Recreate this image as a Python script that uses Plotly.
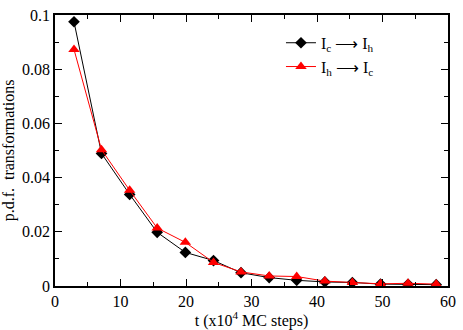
import plotly.graph_objects as go

# time (x10^4 MC steps)
t = [2.9, 7.1, 11.4, 15.6, 19.9, 24.2, 28.4, 32.7, 36.9, 41.2, 45.4, 49.7, 53.9, 58.2]

# p.d.f. of transformations
pdf_c_to_h = [0.0975, 0.0489, 0.0338, 0.0198, 0.0124, 0.0094, 0.0049, 0.0031,
              0.0021, 0.0015, 0.0013, 0.0007, 0.0006, 0.0005]
pdf_h_to_c = [0.0873, 0.0503, 0.0353, 0.0214, 0.0161, 0.0087, 0.0052, 0.0037,
              0.0035, 0.0018, 0.0013, 0.0008, 0.0010, 0.0007]

fig = go.Figure()
fig.add_trace(go.Scatter(
    x=t, y=pdf_c_to_h, mode="lines+markers",
    name="I<sub>c</sub> \u27f6 I<sub>h</sub>",
    line=dict(color="black", width=1),
    marker=dict(symbol="diamond", size=9, color="black"),
))
fig.add_trace(go.Scatter(
    x=t, y=pdf_h_to_c, mode="lines+markers",
    name="I<sub>h</sub> \u27f6 I<sub>c</sub>",
    line=dict(color="red", width=1),
    marker=dict(symbol="triangle-up", size=10, color="red"),
))

axis_style = dict(
    showgrid=False, zeroline=False, showline=True, linecolor="black", linewidth=1.5,
    mirror="allticks", ticks="inside", ticklen=7, tickcolor="black",
    tickfont=dict(family="Liberation Serif", size=16, color="black"),
)

fig.update_xaxes(
    range=[0, 60], dtick=10,
    minor=dict(dtick=5, ticks="inside", ticklen=4, tickcolor="black"),
    title=dict(text="t (x10<sup>4</sup> MC steps)", standoff=2,
               font=dict(family="Liberation Serif", size=16, color="black")),
    **axis_style,
)
fig.update_yaxes(
    range=[0, 0.1], dtick=0.02,
    minor=dict(dtick=0.01, ticks="inside", ticklen=4, tickcolor="black"),
    title=dict(text="p.d.f.  transformations", standoff=4,
               font=dict(family="Liberation Serif", size=16, color="black")),
    **axis_style,
)

fig.update_layout(
    width=463, height=330,
    margin=dict(l=54, r=10, t=7, b=43),
    plot_bgcolor="white", paper_bgcolor="white",
    font=dict(family="Liberation Serif", size=16, color="black"),
    legend=dict(x=0.575, y=0.96, xanchor="left", yanchor="top",
                bgcolor="rgba(0,0,0,0)", tracegroupgap=0, itemwidth=30,
                font=dict(family="Liberation Serif", size=16)),
)

# drop the page's default body margin so the figure sits at the window corner
fig.write_html("out.html", config={"displayModeBar": False},
               post_script="document.body.style.margin='0';")
